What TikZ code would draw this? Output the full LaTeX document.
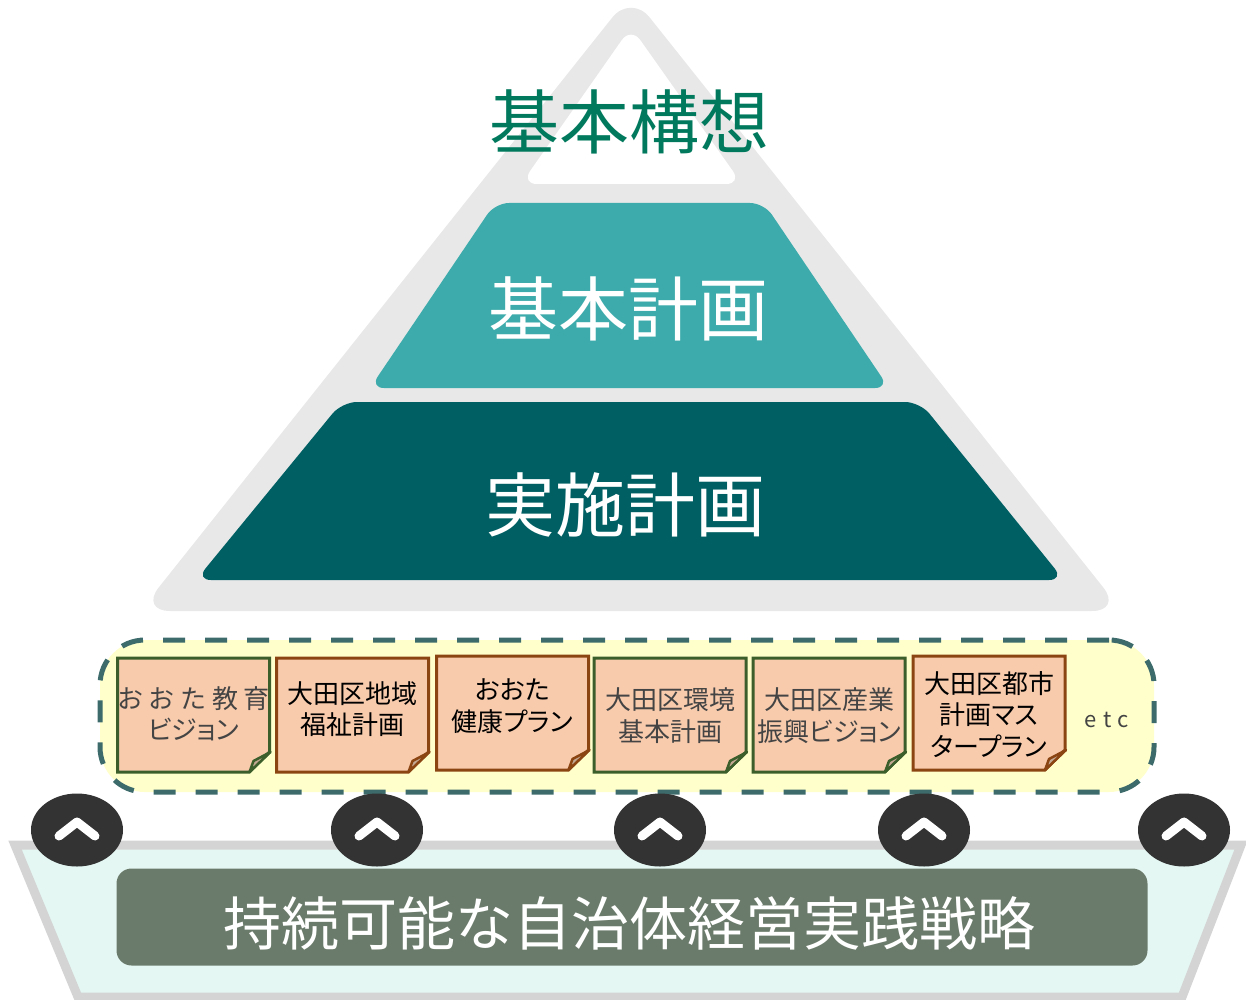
\documentclass[tikz,border=0pt]{standalone}
\usepackage{fontspec}
\setmainfont{Noto Sans CJK JP}
\newfontfamily\notefont[RawFeature={+palt}]{Noto Sans CJK JP}
\newfontfamily\spacedfont[LetterSpace=22]{Noto Sans CJK JP}
\newfontfamily\etcfont[LetterSpace=30]{Noto Sans CJK JP}
\usetikzlibrary{shapes.geometric}
\definecolor{pyrgray}{HTML}{E8E8E8}
\definecolor{kihonc}{HTML}{3DABAB}
\definecolor{jisshic}{HTML}{005F63}
\definecolor{kosoc}{HTML}{00795D}
\definecolor{dashc}{HTML}{3D6B6B}
\definecolor{yellowfill}{HTML}{FFFFCC}
\definecolor{notefill}{HTML}{F8CBAD}
\definecolor{foldfill}{HTML}{C2A792}
\definecolor{greenb}{HTML}{3B5E2B}
\definecolor{brownb}{HTML}{8B4513}
\definecolor{graytext}{HTML}{444444}
\definecolor{mintc}{HTML}{E4F7F3}
\definecolor{trapborder}{HTML}{D4D4D4}
\definecolor{stratc}{HTML}{6B7B6B}
\definecolor{btnc}{HTML}{333333}
\tikzset{
  bigtext/.style={font=\fontsize{70}{84}\selectfont, inner sep=0pt},
  notetext/.style={font=\notefont\fontsize{26}{31.5}\selectfont, align=center, inner sep=0pt},
  dashbox/.style={draw=dashc, line width=5pt, fill=yellowfill, rounded corners=45pt,
    dash pattern=on 22pt off 20pt, inner sep=0pt},
  upbtn/.style={ellipse, fill=btnc, minimum width=92pt, minimum height=73pt, inner sep=0pt},
  chev/.style={draw=white, line width=9pt, line cap=round, line join=round},
}
\newcommand\stickynote[7]{%
  \path[fill=notefill, draw=#4, line width=3pt]
    (#2-76,#3-57) -- (#2+76,#3-57) -- (#2+76,#3+37) -- (#2+56,#3+57) -- (#2-76,#3+57) -- cycle;
  \path[fill=foldfill, draw=#4, line width=2.5pt, line join=round]
    (#2+77,#3+37) -- (#2+56,#3+57) -- (#2+60,#3+46) -- cycle;
  \node[notetext, text=#5] (#1) at (#2,#7) {#6};
}
\begin{document}
\begin{tikzpicture}[x=1pt,y=-1pt]
\useasboundingbox (0,0) rectangle (1246,1000);
% pyramid
\fill[pyrgray, rounded corners=30pt] (631,-6) -- (1122,611) -- (140,611) -- cycle;
\fill[white, rounded corners=16pt] (631,27) -- (742,184) -- (521,184) -- cycle;
\fill[kihonc, rounded corners=14pt] (495,203) -- (764,203) -- (889,388) -- (370,388) -- cycle;
\fill[jisshic, rounded corners=15pt] (342,402) -- (920,402) -- (1064,580) -- (196,580) -- cycle;
\node[bigtext, text=kosoc] (koso) at (629,122) {基本構想};
\node[bigtext, text=white] (kihon) at (628.5,309) {基本計画};
\node[bigtext, text=white] (jisshi) at (625.5,505) {実施計画};
% plans box
\node[dashbox, minimum width=1054pt, minimum height=152pt] (plans) at (627,716) {};
\stickynote{n1}{193.5}{715}{greenb}{graytext}{\spacedfont おおた教育\\ビジョン}{714}
\stickynote{n2}{352.5}{715}{brownb}{black}{大田区地域\\福祉計画}{709}
\stickynote{n3}{512.5}{713}{brownb}{black}{おおた\\健康プラン}{706}
\stickynote{n4}{670}{715}{greenb}{graytext}{大田区環境\\基本計画}{715.5}
\stickynote{n5}{829}{715}{greenb}{graytext}{大田区産業\\振興ビジョン}{715.5}
\stickynote{n6}{989}{713}{brownb}{black}{大田区都市\\計画マス\\タープラン}{714.5}
\node[font=\etcfont\fontsize{22}{26}\selectfont, text=graytext, inner sep=0pt] (etc) at (1107,720) {etc};
% bottom base
\path[fill=mintc, draw=trapborder, line width=9pt] (15,845) -- (1241,845) -- (1182,997) -- (78,997) -- cycle;
\node[fill=stratc, rounded corners=15pt, minimum width=1031pt, minimum height=97pt, inner sep=0pt] (strat) at (632,917) {};
\node[font=\fontsize{58}{70}\selectfont, text=white, inner sep=0pt] (strattext) at (629.5,923) {持続可能な自治体経営実践戦略};
% buttons
\foreach \n/\cx in {1/77,2/377,3/660,4/924,5/1184} {
  \node[upbtn] (b\n) at (\cx,830) {};
  \draw[chev] (\cx-18,836) -- (\cx,822) -- (\cx+18,836);
}
\end{tikzpicture}
\end{document}
